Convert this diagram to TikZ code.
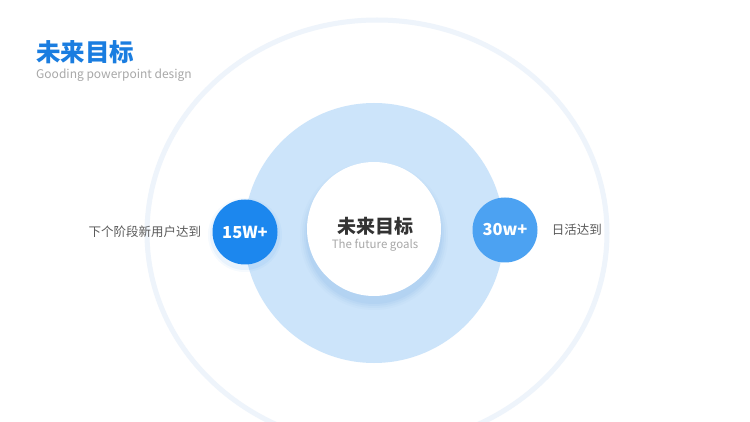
\documentclass[tikz,border=0pt]{standalone}
\usepackage{fontspec}
\setmainfont{Noto Sans CJK SC}
\usepackage{xcolor}
\usetikzlibrary{positioning}

\definecolor{ringblue}{HTML}{EEF4FB}
\definecolor{discblue}{HTML}{CCE4FA}
\definecolor{shadeblue}{HTML}{7FB0E6}
\definecolor{deepblue}{HTML}{1C87EE}
\definecolor{softblue}{HTML}{4CA2F2}
\definecolor{titleblue}{HTML}{1A7DE0}
\definecolor{darktext}{HTML}{333333}
\definecolor{graytext}{HTML}{5A5A5A}
\definecolor{lighttext}{HTML}{A8A8A8}

\begin{document}
\begin{tikzpicture}[
    x=1pt, y=-1pt,
    badge/.style={circle, minimum size=65pt, inner sep=0pt, text=white, font=\fontsize{16.5}{17}\selectfont\bfseries},
    sidelabel/.style={text=graytext, font=\fontsize{12.5}{13}\selectfont, inner sep=0pt}
]
    \useasboundingbox[fill=white] (0,0) rectangle (750,422);

    % rings and discs
    \draw[ringblue, line width=5pt] (377,233) ellipse[x radius=230, y radius=213];
    \fill[discblue] (374,233) circle[radius=130];
    \foreach \r/\op in {74/0.05, 72/0.07, 70/0.09, 68/0.12}
        \fill[shadeblue, opacity=\op] (374,236) circle[radius=\r];
    \node[circle, fill=white, minimum size=134pt, inner sep=0pt] (core) at (374,229) {};

    % title
    \node[anchor=west, inner sep=0pt, text=titleblue, font=\fontsize{24.5}{25}\selectfont\bfseries] (title) at (36,52) {未来目标};
    \node[anchor=west, inner sep=0pt, text=lighttext, font=\fontsize{12}{12}\selectfont] (subtitle) at (36,75) {Gooding powerpoint design};

    % centre text
    \node[inner sep=0pt, text=darktext, font=\fontsize{19}{19}\selectfont\bfseries] (coretitle) at (375,226) {未来目标};
    \node[inner sep=0pt, text=lighttext, font=\fontsize{11.5}{11.5}\selectfont] (coresub) at (375,245) {The future goals};

    % badges
    \foreach \r/\op in {37/0.04, 35/0.06}
        \fill[deepblue, opacity=\op] (245,235) circle[radius=\r];
    \node[badge, fill=deepblue] (left) at (245,232) {15W+};
    \node[badge, fill=softblue] (right) at (505,230) {30w+};

    \node[sidelabel, left=11pt of left] (lefttext) {下个阶段新用户达到};
    \node[sidelabel, right=14pt of right] (righttext) {日活达到};
\end{tikzpicture}
\end{document}
